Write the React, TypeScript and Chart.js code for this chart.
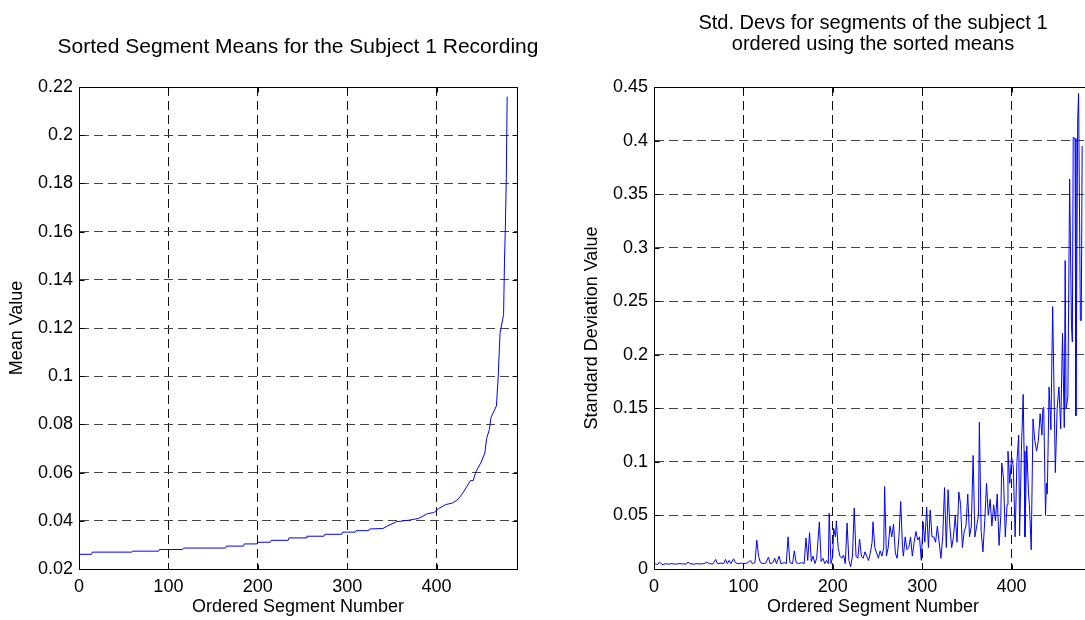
import React, { useEffect, useRef } from "react";
import { Chart, registerables } from "chart.js";

Chart.register(...registerables);

// ---------- Left panel: sorted segment means ----------
const meanSegX = [
  0, 14, 15, 59, 60, 89, 90, 116, 117, 164, 165, 184, 185, 199, 200, 214, 215, 234, 235, 254,
  255, 274, 275, 294, 295, 309, 310, 324, 325, 340, 345, 355, 370, 380, 390, 397, 402, 410,
  418, 424, 430, 438, 441, 444, 450, 454, 456, 459, 461, 467, 469, 471, 474, 475, 476, 477, 478, 479,
];
const meanVals = [
  0.0261, 0.0261, 0.027, 0.027, 0.0274, 0.0274, 0.0281, 0.0281, 0.0287, 0.0287, 0.0295, 0.0295,
  0.0304, 0.0304, 0.0311, 0.0311, 0.0319, 0.0319, 0.0329, 0.0329, 0.0336, 0.0336, 0.0344, 0.0344,
  0.0353, 0.0353, 0.0359, 0.0359, 0.0366, 0.0368, 0.0378, 0.0396, 0.0403, 0.041, 0.043, 0.0434,
  0.045, 0.0467, 0.0474, 0.0489, 0.0519, 0.0567, 0.0567, 0.0603, 0.0644, 0.0681, 0.0741, 0.0778,
  0.083, 0.0877, 0.1001, 0.1178, 0.1237, 0.1256, 0.148, 0.162, 0.182, 0.216,
];
const meanYTicks = [0.02, 0.04, 0.06, 0.08, 0.1, 0.12, 0.14, 0.16, 0.18, 0.2, 0.22];

// ---------- Right panel: std. devs ordered by sorted means ----------
const sdSegX = [
  0, 2, 4, 6, 8, 10, 13, 16, 20, 24, 28, 32, 36, 38, 40, 44, 48, 52, 56, 59, 62, 66, 69, 71, 75,
  78, 80, 82, 84, 86, 89, 91, 94, 98, 102, 105, 108, 110, 113, 115, 117, 119, 122, 125, 128, 130,
  133, 135, 137, 140, 142, 146, 148, 150, 152, 155, 157, 159, 162, 165, 168, 170, 172, 174, 176,
  178, 180, 182, 185, 187, 189, 191, 193, 195, 196, 198, 200, 201, 203, 204, 206, 208, 210, 212,
  214, 216, 218, 220, 222, 224, 226, 228, 230, 232, 234, 236, 238, 240, 242, 244, 245, 247, 249,
  251, 253, 255, 257, 258, 260, 262, 264, 266, 268, 270, 272, 274, 276, 278, 279, 281, 283, 285,
  287, 289, 291, 293, 295, 297, 299, 301, 303, 305, 307, 309, 311, 313, 315, 317, 319, 321, 323,
  325, 327, 329, 331, 333, 335, 337, 339, 341, 343, 345, 347, 349, 351, 353, 355, 357, 359, 361,
  363, 364, 366, 368, 370, 372, 374, 376, 378, 380, 382, 384, 386, 388, 389, 391, 393, 395, 396,
  398, 400, 402, 404, 406, 408, 409, 411, 413, 414, 415, 417, 419, 420, 422, 424, 426, 428, 430,
  432, 434, 435, 436, 438, 439, 440, 442, 444, 446, 449, 451, 453, 455, 457, 459, 460, 461, 463,
  465, 467, 468, 469, 471, 472, 474, 475, 477, 478, 479,
];
const sdVals = [
  0.004, 0.005, 0.004, 0.0065, 0.005, 0.004, 0.005, 0.0045, 0.005, 0.0045, 0.005, 0.0048, 0.0045,
  0.0065, 0.005, 0.0045, 0.005, 0.0047, 0.005, 0.0065, 0.005, 0.0048, 0.009, 0.005, 0.0055, 0.005,
  0.009, 0.005, 0.008, 0.005, 0.0095, 0.006, 0.005, 0.0055, 0.005, 0.006, 0.008, 0.005, 0.006,
  0.027, 0.012, 0.006, 0.005, 0.0055, 0.011, 0.005, 0.006, 0.01, 0.005, 0.012, 0.005, 0.006, 0.005,
  0.03, 0.006, 0.005, 0.017, 0.006, 0.005, 0.006, 0.005, 0.029, 0.008, 0.034, 0.007, 0.012, 0.005,
  0.01, 0.044, 0.007, 0.01, 0.005, 0.008, 0.005, 0.052, 0.005, 0.012, 0.038, 0.03, 0.045, 0.02,
  0.012, 0.01, 0.013, 0.005, 0.043, 0.008, 0.002, 0.012, 0.057, 0.012, 0.01, 0.028, 0.012, 0.01,
  0.016, 0.012, 0.008, 0.015, 0.025, 0.044, 0.02, 0.015, 0.01, 0.017, 0.012, 0.02, 0.077, 0.012,
  0.02, 0.04, 0.03, 0.042, 0.015, 0.01, 0.03, 0.063, 0.02, 0.012, 0.03, 0.018, 0.02, 0.03, 0.012,
  0.025, 0.035, 0.027, 0.03, 0.008, 0.044, 0.025, 0.058, 0.02, 0.055, 0.03, 0.03, 0.025, 0.04,
  0.025, 0.01, 0.03, 0.076, 0.02, 0.074, 0.04, 0.02, 0.03, 0.05, 0.025, 0.072, 0.06, 0.02, 0.035,
  0.04, 0.07, 0.03, 0.04, 0.106, 0.03, 0.04, 0.05, 0.137, 0.035, 0.016, 0.045, 0.08, 0.05, 0.065,
  0.04, 0.06, 0.045, 0.07, 0.022, 0.05, 0.099, 0.085, 0.03, 0.06, 0.11, 0.08, 0.105, 0.095, 0.03,
  0.1, 0.125, 0.031, 0.11, 0.163, 0.11, 0.03, 0.115, 0.07, 0.06, 0.018, 0.14, 0.12, 0.11, 0.12,
  0.145, 0.125, 0.15, 0.151, 0.05, 0.08, 0.07, 0.17, 0.13, 0.245, 0.09, 0.15, 0.17, 0.131, 0.22,
  0.132, 0.288, 0.15, 0.16, 0.364, 0.228, 0.212, 0.403, 0.402, 0.143, 0.42, 0.444, 0.232, 0.232,
  0.395,
];
const sdYTicks = [0, 0.05, 0.1, 0.15, 0.2, 0.25, 0.3, 0.35, 0.4, 0.45];

const segTicks = [0, 100, 200, 300, 400];
const segMin = 0;
const segMax = 490;

const FONT = "'Liberation Sans', Arial, Helvetica, sans-serif";

const fmt = (v: number | string) => String(Number(Number(v).toFixed(4)));

const boxPlugin = {
  id: "matlabBox",
  afterDatasetsDraw(chart: any) {
    const { ctx, chartArea, scales } = chart;
    const l = Math.round(chartArea.left) + 0.5;
    const t = Math.round(chartArea.top) + 0.5;
    const r = Math.round(chartArea.right) + 0.5;
    const b = Math.round(chartArea.bottom) + 0.5;
    ctx.save();
    ctx.setLineDash([]);
    ctx.strokeStyle = "#000";
    ctx.lineWidth = 1;
    ctx.beginPath();
    ctx.rect(l, t, r - l, b - t);
    // inward tick marks on all four sides
    const tl = 5;
    for (const tk of scales.x.ticks) {
      const px = Math.round(scales.x.getPixelForValue(tk.value)) + 0.5;
      ctx.moveTo(px, b);
      ctx.lineTo(px, b - tl);
      ctx.moveTo(px, t);
      ctx.lineTo(px, t + tl);
    }
    for (const tk of scales.y.ticks) {
      const py = Math.round(scales.y.getPixelForValue(tk.value)) + 0.5;
      ctx.moveTo(l, py);
      ctx.lineTo(l + tl, py);
      ctx.moveTo(r, py);
      ctx.lineTo(r - tl, py);
    }
    ctx.stroke();
    ctx.restore();
  },
};

function makeConfig(
  xs: number[],
  ys: number[],
  yTicks: number[],
  title: string | string[],
  titleSize: number,
  titleLineHeight: number,
  titlePad: { top: number; bottom: number },
  yLabel: string
): any {
  const tickFont = { family: FONT, size: 18, weight: "normal" as const };
  return {
    type: "line",
    data: {
      datasets: [
        {
          data: xs.map((x, i) => ({ x, y: ys[i] })),
          borderColor: "#0000ff",
          borderWidth: 1,
          pointRadius: 0,
          fill: false,
          tension: 0,
          xAxisID: "x",
          yAxisID: "y",
        },
      ],
    },
    options: {
      animation: false,
      responsive: false,
      events: [],
      layout: { padding: 0 },
      plugins: {
        legend: { display: false },
        tooltip: { enabled: false },
        title: {
          display: true,
          text: title,
          fullSize: true,
          color: "#000",
          font: { family: FONT, size: titleSize, weight: "normal", lineHeight: titleLineHeight },
          padding: titlePad,
        },
      },
      scales: {
        x: {
          type: "linear",
          min: segMin,
          max: segMax,
          afterBuildTicks: (s: any) => {
            s.ticks = segTicks.map((v) => ({ value: v }));
          },
          afterFit: (s: any) => {
            s.height = 51;
          },
          grid: { color: "#111", lineWidth: 1, drawTicks: false },
          border: { display: true, color: "#000", width: 1, dash: [9, 5] },
          ticks: {
            color: "#000",
            font: tickFont,
            padding: 7,
            maxRotation: 0,
            autoSkip: false,
            callback: (v: number) => fmt(v),
          },
          title: {
            display: true,
            text: "Ordered Segment Number",
            color: "#000",
            font: { family: FONT, size: 18, weight: "normal", lineHeight: 1.2 },
            padding: { top: 0, bottom: 2 },
          },
        },
        y: {
          type: "linear",
          position: "left",
          min: yTicks[0],
          max: yTicks[yTicks.length - 1],
          afterBuildTicks: (s: any) => {
            s.ticks = yTicks.map((v) => ({ value: v }));
          },
          afterFit: (s: any) => {
            s.width = 79;
          },
          grid: { color: "#444", lineWidth: 1, drawTicks: false },
          border: { display: true, color: "#000", width: 1, dash: [9, 5] },
          ticks: {
            color: "#000",
            font: tickFont,
            padding: 6,
            autoSkip: false,
            callback: (v: number) => fmt(v),
          },
          title: {
            display: true,
            text: yLabel,
            color: "#000",
            font: { family: FONT, size: 18, weight: "normal", lineHeight: 1.2 },
            padding: { top: 6, bottom: 0 },
          },
        },
        // empty right-hand spacer so the title centres on the axes box
        ySpacer: {
          type: "linear",
          position: "right",
          min: 0,
          max: 1,
          afterFit: (s: any) => {
            s.width = 79;
          },
          grid: { display: false, drawOnChartArea: false },
          border: { display: false },
          ticks: { display: false },
          title: { display: false },
        },
      },
    },
    plugins: [boxPlugin],
  };
}

export default function App() {
  const leftRef = useRef<HTMLCanvasElement>(null);
  const rightRef = useRef<HTMLCanvasElement>(null);

  useEffect(() => {
    document.body.style.margin = "0";
    const c1 = new Chart(
      leftRef.current as HTMLCanvasElement,
      makeConfig(
        meanSegX,
        meanVals,
        meanYTicks,
        "Sorted Segment Means for the Subject 1 Recording",
        21,
        1.1,
        { top: 35.95, bottom: 27.95 },
        "Mean Value"
      )
    );
    const c2 = new Chart(
      rightRef.current as HTMLCanvasElement,
      makeConfig(
        sdSegX,
        sdVals,
        sdYTicks,
        ["Std. Devs for segments of the subject 1", "ordered using the sorted means"],
        20,
        1.05,
        { top: 13, bottom: 32 },
        "Standard Deviation Value"
      )
    );
    return () => {
      c1.destroy();
      c2.destroy();
    };
  }, []);

  return (
    <div
      style={{
        position: "fixed",
        left: 0,
        top: 0,
        width: 1085,
        height: 620,
        overflow: "hidden",
        background: "#fff",
      }}
    >
      <canvas
        ref={leftRef}
        width={596}
        height={620}
        style={{ position: "absolute", left: 0, top: 0, display: "block" }}
      />
      <canvas
        ref={rightRef}
        width={596}
        height={620}
        style={{ position: "absolute", left: 575, top: 0, display: "block" }}
      />
    </div>
  );
}
